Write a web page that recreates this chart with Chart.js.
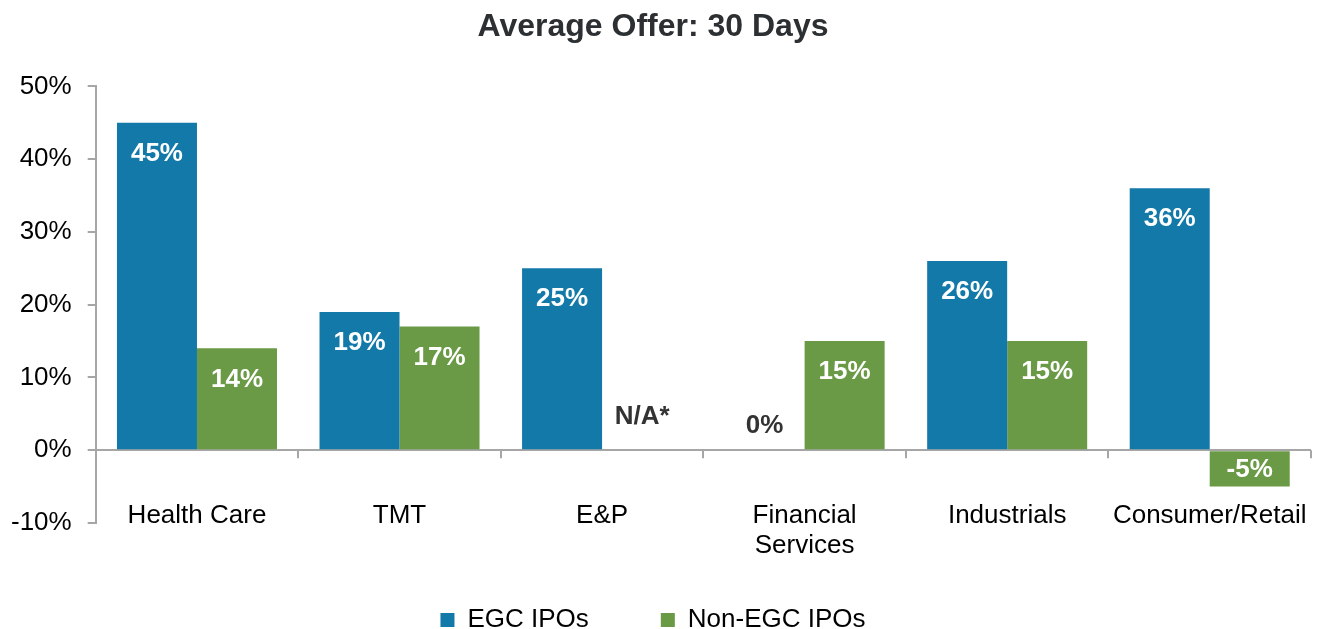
<!DOCTYPE html>
<html>
<head>
<meta charset="utf-8">
<script src="https://cdn.jsdelivr.net/npm/chart.js@4"></script>
<style>
    html, body { margin: 0; padding: 0; background: #fff; }
    #wrap { width: 1321px; height: 629px; }
</style>
</head>
<body>
<div id="wrap"><canvas id="offerChart"></canvas></div>
<script>
// 数据
const categories = ['Health Care', 'TMT', 'E&P', ['Financial', 'Services'], 'Industrials', 'Consumer/Retail'];
const egcValues = [45, 19, 25, 0, 26, 36];
const nonEgcValues = [14, 17, null, 15, 15, -5];
const yTicks = [-10, 0, 10, 20, 30, 40, 50];

const FONT = '"Liberation Sans", Arial, sans-serif';
const AXIS_GRAY = '#a6a6a6';

// 柱内数值标签
const valueLabels = {
    id: 'valueLabels',
    afterDatasetsDraw(chart) {
        const ctx = chart.ctx;
        const y0 = chart.scales.y.getPixelForValue(0);
        ctx.save();
        ctx.font = 'bold 26px ' + FONT;
        ctx.textAlign = 'center';
        ctx.textBaseline = 'middle';
        chart.data.datasets.forEach((ds, di) => {
            const meta = chart.getDatasetMeta(di);
            meta.data.forEach((bar, i) => {
                const v = ds.data[i];
                let text, y, color = '#fff';
                if (v === null) {
                    text = 'N/A*'; y = y0 - 33; color = '#333';
                } else if (v === 0) {
                    text = '0%'; y = y0 - 24; color = '#333';
                } else if (v < 0) {
                    text = v + '%'; y = (bar.y + y0) / 2 + 1;
                } else {
                    text = v + '%'; y = bar.y + 31;
                }
                ctx.fillStyle = color;
                ctx.fillText(text, bar.x, y);
            });
        });
        ctx.restore();
    }
};

// 零线上的分类刻度 + 分类名称
const categoryAxis = {
    id: 'categoryAxis',
    afterDraw(chart) {
        const ctx = chart.ctx;
        const x = chart.scales.x;
        const y0 = chart.scales.y.getPixelForValue(0);
        const bottom = chart.chartArea.bottom;
        ctx.save();
        ctx.strokeStyle = AXIS_GRAY;
        ctx.lineWidth = 2;
        for (let i = 0; i < categories.length; i++) {
            const px = Math.round(x.getPixelForValue(i + 0.5));
            ctx.beginPath();
            ctx.moveTo(px, y0);
            ctx.lineTo(px, y0 + 8);
            ctx.stroke();
        }
        ctx.fillStyle = '#000';
        ctx.font = '26px ' + FONT;
        ctx.textAlign = 'center';
        ctx.textBaseline = 'middle';
        categories.forEach((c, i) => {
            const lines = Array.isArray(c) ? c : [c];
            lines.forEach((line, j) => {
                ctx.fillText(line, x.getPixelForValue(i), bottom - 7 + j * 30);
            });
        });
        ctx.restore();
    }
};

const ctx = document.getElementById('offerChart').getContext('2d');
new Chart(ctx, {
    type: 'bar',
    data: {
        labels: categories,
        datasets: [{
            label: 'EGC IPOs',
            data: egcValues,
            backgroundColor: '#1279a8'
        }, {
            label: 'Non-EGC IPOs',
            data: nonEgcValues,
            backgroundColor: '#6a9a45'
        }]
    },
    options: {
        responsive: true,
        maintainAspectRatio: false,
        animation: false,
        categoryPercentage: 0.79,
        barPercentage: 1,
        layout: { padding: { left: -5, right: 10, top: 0, bottom: -14 } },
        plugins: {
            title: {
                display: true,
                text: 'Average Offer: 30 Days',
                color: '#2d3033',
                font: { family: FONT, size: 32, weight: 'bold' },
                padding: { top: 8, bottom: 40 }
            },
            legend: {
                position: 'bottom',
                labels: {
                    color: '#000',
                    font: { family: FONT, size: 26 },
                    boxWidth: 14,
                    boxHeight: 14,
                    padding: 72
                }
            },
            tooltip: { enabled: false }
        },
        scales: {
            x: {
                grid: { display: false },
                border: { display: false },
                ticks: { display: false },
                afterFit: axis => { axis.height = 12; }
            },
            y: {
                min: -10,
                max: 50,
                afterBuildTicks: axis => { axis.ticks = yTicks.map(v => ({ value: v })); },
                border: { display: true, color: AXIS_GRAY, width: 2 },
                grid: {
                    color: c => c.tick && c.tick.value === 0 ? AXIS_GRAY : 'rgba(0,0,0,0)',
                    tickColor: AXIS_GRAY,
                    lineWidth: 2,
                    tickLength: 8
                },
                ticks: {
                    color: '#000',
                    font: { family: FONT, size: 26 },
                    padding: 16,
                    callback: v => v + '%'
                }
            }
        }
    },
    plugins: [valueLabels, categoryAxis]
});
</script>
</body>
</html>
